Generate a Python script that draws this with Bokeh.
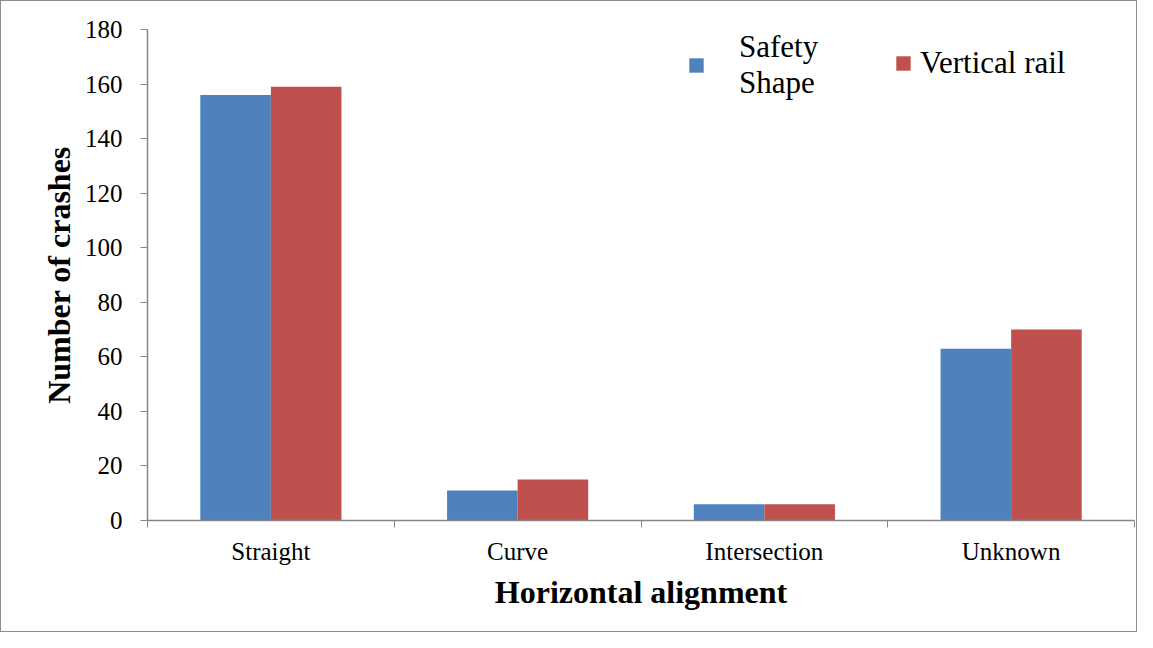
from bokeh.plotting import figure
from bokeh.models import (ColumnDataSource, Range1d, FixedTicker, Legend, LegendItem)
from bokeh.embed import file_html
from bokeh.resources import INLINE
import numpy as np

categories = ["Straight", "Curve", "Intersection", "Unknown"]
safety_shape = [156, 11, 6, 63]
vertical_rail = [159, 15, 6, 70]
series_names = ["Safety\nShape", "Vertical rail"]
y_ticks = [0, 20, 40, 60, 80, 100, 120, 140, 160, 180]

FONT = "Liberation Serif"
BLUE = "#4F81BD"
RED = "#C0504D"
AXIS = "#868686"

centers = np.arange(len(categories)) + 0.5
bw = 0.286
src = ColumnDataSource(dict(
    xb=centers - bw / 2, xr=centers + bw / 2,
    safety=safety_shape, vertical=vertical_rail))

p = figure(width=1137, height=632, output_backend="svg", toolbar_location=None,
           x_range=Range1d(0, len(categories)), y_range=Range1d(0, 180),
           min_border_left=146, min_border_right=4, min_border_top=28, min_border_bottom=113)
p.outline_line_color = None
p.grid.visible = False
p.styles = {"border": "1px solid #8c8c8c"}

rb = p.vbar(x="xb", top="safety", width=bw, source=src, color=BLUE, line_color=None)
rr = p.vbar(x="xr", top="vertical", width=bw, source=src, color=RED, line_color=None)

# x axis
xa = p.xaxis[0]
xa.ticker = FixedTicker(ticks=list(centers), minor_ticks=list(range(len(categories) + 1)))
xa.major_label_overrides = {float(c): n for c, n in zip(centers, categories)}
xa.major_tick_out = 0
xa.major_tick_in = 0
xa.minor_tick_out = 7
xa.minor_tick_in = 0
xa.minor_tick_line_color = AXIS
xa.axis_line_color = AXIS
xa.axis_line_width = 1.5
xa.major_label_text_font = FONT
xa.major_label_text_font_size = "25px"
xa.major_label_text_color = "#000000"
xa.major_label_standoff = 10
xa.axis_label = "Horizontal alignment"
xa.axis_label_text_font = FONT
xa.axis_label_text_font_size = "32px"
xa.axis_label_text_font_style = "bold"
xa.axis_label_text_color = "#000000"
xa.axis_label_standoff = 6

ya = p.yaxis[0]
ya.ticker = FixedTicker(ticks=y_ticks)
ya.major_tick_out = 7
ya.major_tick_in = 0
ya.minor_tick_line_color = None
ya.major_tick_line_color = AXIS
ya.axis_line_color = AXIS
ya.axis_line_width = 1.5
ya.major_label_text_font = FONT
ya.major_label_text_font_size = "25px"
ya.major_label_text_color = "#000000"
ya.major_label_standoff = 18
ya.axis_label = "Number of crashes"
ya.axis_label_text_font = FONT
ya.axis_label_text_font_size = "32px"
ya.axis_label_text_font_style = "bold"
ya.axis_label_text_color = "#000000"
ya.axis_label_standoff = 5


def make_legend(item, loc, standoff):
    lg = Legend(items=[item], orientation="horizontal", location=loc)
    lg.label_text_font = FONT
    lg.label_text_font_size = "31px"
    lg.label_text_color = "#000000"
    lg.glyph_width = 18
    lg.glyph_height = 18
    lg.label_standoff = standoff
    lg.padding = 0
    lg.margin = 0
    lg.border_line_color = None
    lg.background_fill_alpha = 0
    return lg


p.add_layout(make_legend(LegendItem(label=series_names[0], renderers=[rb]), (540, 419), 34))
p.add_layout(make_legend(LegendItem(label=series_names[1], renderers=[rr]), (747, 439), 8))

open("out.html", "w").write(file_html(p, INLINE))
